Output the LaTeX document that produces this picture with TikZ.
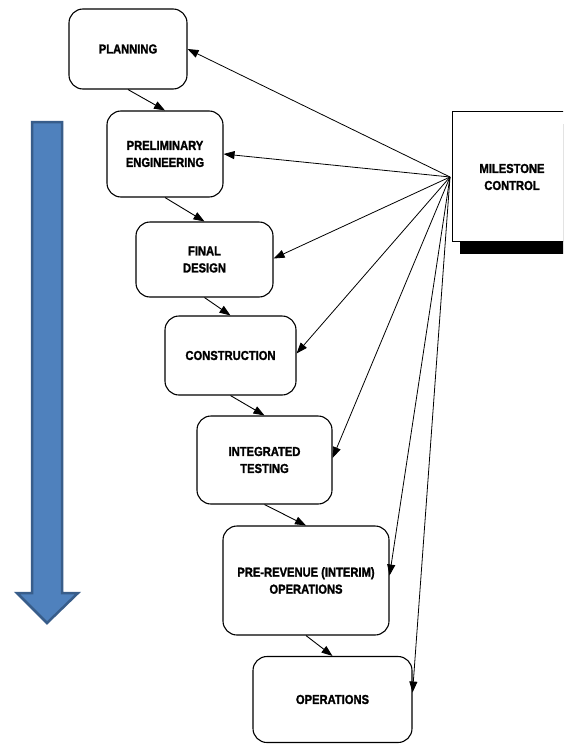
\documentclass[tikz,border=0pt]{standalone}
\usepackage{fontspec}
\setmainfont{Liberation Sans}[FakeStretch=0.88]
\newfontfamily\boxfont{Liberation Sans}[FakeStretch=0.86, BoldFeatures={FakeBold=1.6}]
\usetikzlibrary{arrows.meta}
\definecolor{bluefill}{RGB}{79,129,189}
\definecolor{blueline}{RGB}{56,93,138}
\tikzset{
  phase/.style={draw=black, line width=1.1pt, rounded corners=14pt, fill=white,
    inner sep=0pt, align=center, font=\boxfont\bfseries\fontsize{13}{17}\selectfont},
  flow/.style={draw=black, line width=0.9pt, -{Triangle[length=11pt,width=8pt]}},
  ctl/.style={draw=black, line width=0.8pt, -{Triangle[length=11pt,width=8pt]}},
  mcbox/.style={draw=black, line width=1.1pt, fill=white, inner sep=0pt},
  mctext/.style={font=\boxfont\bfseries\fontsize{13}{17}\selectfont, align=center}
}
\begin{document}
\begin{tikzpicture}[x=1pt,y=-1pt]
\useasboundingbox (0,0) rectangle (563,744);
\clip (0,0) rectangle (563,744);
\fill[white] (0,0) rectangle (563,744);
% blue progress arrow
\draw[fill=bluefill, draw=blueline, line width=2.5pt, line join=miter]
  (32,122) -- (62,122) -- (62,593) -- (78,593) -- (47,623) -- (17,593) -- (32,593) -- cycle;
% milestone control box with shadow
\fill[black] (460,124) rectangle (580,254);
\node[mcbox, minimum width=128pt, minimum height=130pt, anchor=north west, text width=1pt] (mcb) at (452,111) {};
\node[mctext] (mc) at (512,177) {MILESTONE\\CONTROL};
\coordinate (hub) at (450,177);
% phases
\node[phase, minimum width=118pt, minimum height=80pt] (plan) at (128,49) {PLANNING};
\node[phase, minimum width=116pt, minimum height=86pt] (prel) at (165,154) {PRELIMINARY\\ENGINEERING};
\node[phase, minimum width=137pt, minimum height=75pt] (fin) at (204.5,259.5) {FINAL\\DESIGN};
\node[phase, minimum width=131pt, minimum height=79pt] (cons) at (230.5,355.5) {CONSTRUCTION};
\node[phase, minimum width=135pt, minimum height=88pt] (integ) at (264.5,460) {INTEGRATED\\TESTING};
\node[phase, minimum width=166pt, minimum height=109pt] (prerev) at (306,580.5) {PRE-REVENUE (INTERIM)\\OPERATIONS};
\node[phase, minimum width=159pt, minimum height=86pt] (oper) at (332.5,699.5) {OPERATIONS};
% flow arrows
\draw[flow] (plan.south) -- (prel.north);
\draw[flow] (prel.south) -- (fin.north);
\draw[flow] (fin.south) -- (cons.north);
\draw[flow] (cons.south) -- (integ.north);
\draw[flow] (integ.south) -- (prerev.north);
\draw[flow] (prerev.south) -- (oper.north);
% milestone control arrows
\draw[ctl] (hub) -- (plan.east);
\draw[ctl] (hub) -- (prel.east);
\draw[ctl] (hub) -- ([yshift=1pt]fin.east);
\draw[ctl] (hub) -- ([yshift=2pt]cons.east);
\draw[ctl] (hub) -- ([yshift=2pt]integ.east);
\draw[ctl] (hub) -- ([yshift=5pt]prerev.east);
\draw[ctl] (hub) -- ([yshift=7pt]oper.east);
\end{tikzpicture}
\end{document}
